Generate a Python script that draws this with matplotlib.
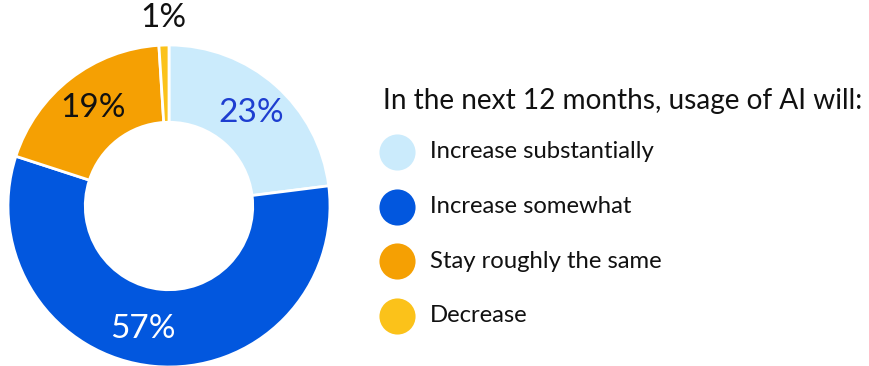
import numpy as np
import matplotlib.pyplot as plt

plt.rcParams['font.family'] = ['Lato', 'DejaVu Sans']

# survey shares, clockwise from 12 o'clock
categories = ['Increase substantially', 'Increase somewhat', 'Stay roughly the same', 'Decrease']
shares = [23, 57, 19, 1]
colors = ['#CBEBFC', '#0257DE', '#F5A003', '#FBC21A']
label_colors = ['#1E3ED0', 'white', '#111111', '#111111']
title = 'In the next 12 months, usage of AI will:'

W, H = 869, 366
fig = plt.figure(figsize=(W / 100, H / 100), dpi=100)
ax = fig.add_axes([0, 0, 1, 1])

cx, cy, R = 169, H - 206, 161
ax.pie(shares, colors=colors, startangle=90, counterclock=False,
       center=(cx, cy), radius=R, frame=True,
       wedgeprops=dict(width=R * 0.48, edgecolor='white', linewidth=2))
ax.set_xlim(0, W)
ax.set_ylim(0, H)
ax.set_aspect('equal')
ax.axis('off')

# percentage labels at the middle of each wedge (the small one sits outside)
cum = np.cumsum([0] + shares[:-1])
for i, v in enumerate(shares):
    ang = np.deg2rad(90 - (cum[i] + v / 2) * 3.6)
    r = 124 if v > 5 else 188
    dx = -14 if i == 1 else 0
    ax.text(cx + r * np.cos(ang) + dx, cy + r * np.sin(ang), f'{v}%',
            ha='center', va='center', fontsize=24, color=label_colors[i])

# legend
fig.text(383 / W, 1 - 101 / H, title, fontsize=20.2, color='#111111',
         ha='left', va='center')
for i, (name, c) in enumerate(zip(categories, colors)):
    y = H - (152 + 54.5 * i)
    ax.scatter([397], [y], s=26 ** 2, color=c, linewidths=0)
    ax.text(430, y, name, fontsize=17.2, color='#111111', ha='left', va='center')

fig.savefig('out.png', dpi=100)
